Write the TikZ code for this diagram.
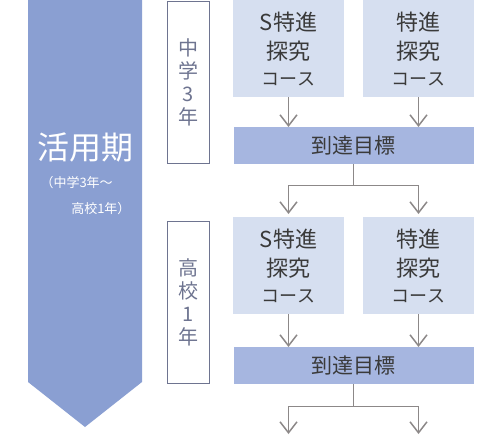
\documentclass[tikz,border=0pt]{standalone}
\usepackage{fontspec}
\setmainfont{Noto Sans CJK JP}
\usepackage{xcolor,tikz}
\usetikzlibrary{positioning,calc,arrows.meta}
\definecolor{kaBanner}{HTML}{8A9FD2}
\definecolor{kaCourseBg}{HTML}{D6DFF0}
\definecolor{kaGoalBg}{HTML}{A6B6E0}
\definecolor{kaGradeLine}{HTML}{6E7490}
\definecolor{kaArrow}{HTML}{8C8888}
\definecolor{kaText}{HTML}{3A3A3A}
\tikzset{
  flow arrow/.style={
    -{Straight Barb[length=11pt, width=17pt, line width=1.5pt]},
    line width=1.5pt, color=kaArrow,
  },
  course box/.style={
    rectangle, fill=kaCourseBg, anchor=north,
    minimum width=111pt, minimum height=97pt,
    text=kaText, align=center, inner sep=0pt,
    font=\fontsize{22}{29}\selectfont,
  },
  goal box/.style={
    rectangle, fill=kaGoalBg, anchor=north west,
    minimum width=240pt, minimum height=37pt,
    text=kaText, inner sep=0pt,
    font=\fontsize{21}{24}\selectfont,
  },
  grade box/.style={
    rectangle, draw=kaGradeLine, line width=1pt, anchor=north west,
    minimum width=42pt, minimum height=162pt,
    text=kaGradeLine, align=center, inner sep=0pt,
    font=\fontsize{20}{23}\selectfont,
  },
}

\begin{document}
\begin{tikzpicture}[x=1pt, y=-1pt]

% --- PARAMETERS ---
% rows: index / course top / goal top / grade top / grade text
\def\rows{%
  1/0/127/1/{中\\学\\3\\年},%
  2/217/347/221/{高\\校\\1\\年}%
}
\def\colA{288.5}   % centre of left course column
\def\colB{418.5}   % centre of right course column

\useasboundingbox (0,0) rectangle (500,434);

% --- BANNER ---
\fill[kaBanner] (28,0) -- (142,0) -- (142,382) -- (85,427) -- (28,382) -- cycle;
\node[text=white, font=\fontsize{32}{36}\selectfont] (period) at (85,147) {活用期};
\node[text=white, anchor=west, font=\fontsize{13}{15}\selectfont]
  (spanA) at (37,183) {（中学3年～};
\node[text=white, anchor=east, font=\fontsize{13}{15}\selectfont]
  (spanB) at (134,209) {高校1年）};

% --- ROWS ---
\foreach \r/\ctop/\gtop/\ytop/\grade in \rows {
  \node[grade box] (g\r) at (167,\ytop) {\grade};
  \node[course box] (ca\r) at (\colA,\ctop)
    {S特進\\探究\\[-3pt]{\fontsize{18}{20}\selectfont コース}};
  \node[course box] (cb\r) at (\colB,\ctop)
    {特進\\探究\\[-3pt]{\fontsize{18}{20}\selectfont コース}};
  \node[goal box] (t\r) at (233.5,\gtop) {到達目標};
  \draw[flow arrow] (ca\r.south) -- (ca\r.south |- t\r.north);
  \draw[flow arrow] (cb\r.south) -- (cb\r.south |- t\r.north);
}

% --- BRANCHES BELOW GOALS ---
\coordinate (endA) at (\colA,434);
\coordinate (endB) at (\colB,434);
\draw[flow arrow, shorten >=3pt] (t1.south) -- ++(0,21) -| (ca2.north);
\draw[flow arrow, shorten >=3pt] (t1.south) -- ++(0,21) -| (cb2.north);
\draw[flow arrow] (t2.south) -- ++(0,22) -| (endA);
\draw[flow arrow] (t2.south) -- ++(0,22) -| (endB);

\end{tikzpicture}
\end{document}
